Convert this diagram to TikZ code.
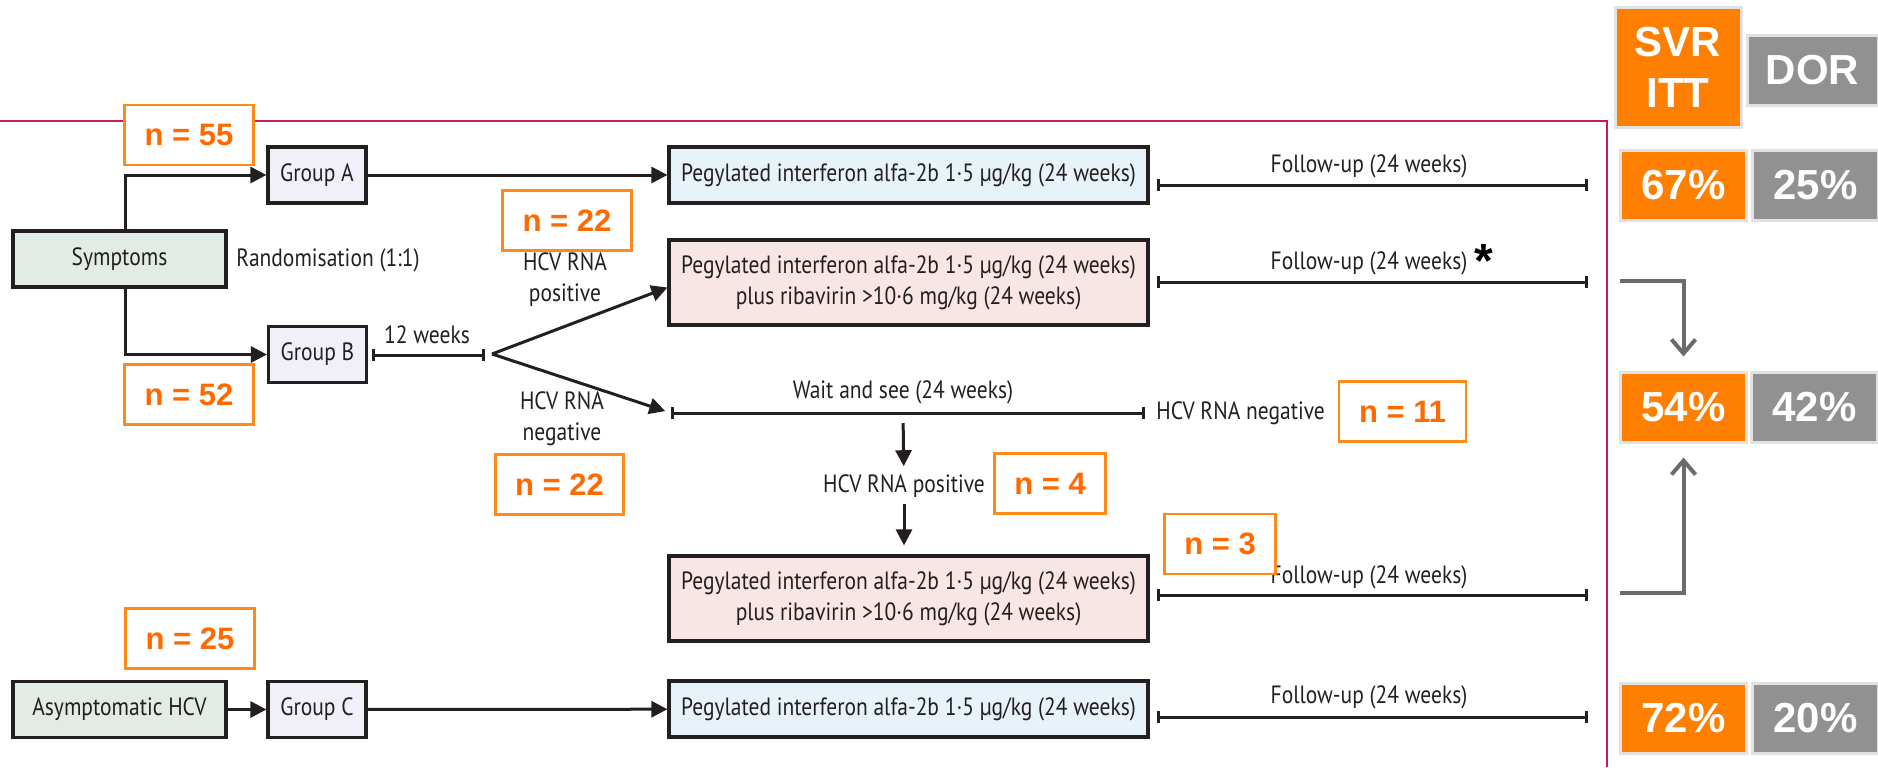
\documentclass[tikz,border=0pt]{standalone}
\usepackage{fontspec}
\setmainfont{PT Sans}[FakeStretch=0.86]
\newfontfamily\nfont{Liberation Sans}
\usepackage{tikz}
\usetikzlibrary{arrows.meta, positioning}
\definecolor{ink}{HTML}{231F20}
\definecolor{symfill}{HTML}{E3ECE4}
\definecolor{grpfill}{HTML}{F1EFF8}
\definecolor{pegblue}{HTML}{E7F3F9}
\definecolor{pegpink}{HTML}{F7E6E4}
\definecolor{norange}{HTML}{FF8A1C}
\definecolor{ntext}{HTML}{FF6A00}
\definecolor{svrorange}{HTML}{FF7F00}
\definecolor{dorgray}{HTML}{919191}
\definecolor{rimgray}{HTML}{E2E2E2}
\definecolor{arrgray}{HTML}{6B6B6B}
\definecolor{framered}{HTML}{C81E4A}

\begin{document}
\begin{tikzpicture}[
  x=0.5pt, y=-0.5pt,
  font=\fontsize{12.5}{15.5}\selectfont,
  box/.style={draw=ink, line width=1.6pt, inner sep=0pt, minimum height=28pt, align=center, text=ink},
  grp/.style={box, fill=grpfill, minimum width=49pt},
  peg/.style={box, minimum width=239.5pt},
  lbl/.style={inner sep=0pt, align=center, text=ink},
  nbox/.style={draw=norange, line width=1.4pt, fill=white, text=ntext, inner xsep=10pt, minimum height=30pt, font=\nfont\bfseries\fontsize{15.5}{18}\selectfont},
  res/.style={draw=rimgray, line width=1.5pt, text=white, align=center, minimum width=63pt, minimum height=35pt, font=\nfont\bfseries\fontsize{21}{25.5}\selectfont},
  arr/.style={-{Triangle[length=8pt,width=8pt]}, line width=1.5pt, draw=ink},
  spanbar/.style={{Bar[width=6pt]}-{Bar[width=6pt]}, line width=1.5pt, draw=ink},
  garr/.style={-{Straight Barb[length=7pt,width=12pt]}, line width=2pt, draw=arrgray},
  redframe/.style={draw=framered, line width=0.8pt}
]
\useasboundingbox (0,0) rectangle (1878,767);
\draw[redframe] (0,121) -| (1607,767);

\node[box, fill=symfill, minimum width=106.5pt] (symp) at (119.5,259) {Symptoms};
\node[box, fill=symfill, minimum width=106.5pt] (asym) at (119.5,709.5) {Asymptomatic HCV};
\node[grp] (grpA) at (317,175) {Group A};
\node[grp] (grpB) at (317.5,354.5) {Group B};
\node[grp] (grpC) at (317,709.5) {Group C};
\node[peg, fill=pegblue] (pegA) at (908.5,175) {Pegylated interferon alfa-2b 1·5 µg/kg (24 weeks)};
\node[peg, fill=pegpink, minimum height=42.5pt] (pegB) at (908.5,282.5) {Pegylated interferon alfa-2b 1·5 µg/kg (24 weeks)\\plus ribavirin >10·6 mg/kg (24 weeks)};
\node[peg, fill=pegpink, minimum height=42.5pt] (pegC) at (908.5,598.5) {Pegylated interferon alfa-2b 1·5 µg/kg (24 weeks)\\plus ribavirin >10·6 mg/kg (24 weeks)};
\node[peg, fill=pegblue] (pegD) at (908.5,709) {Pegylated interferon alfa-2b 1·5 µg/kg (24 weeks)};

\node[lbl, anchor=west] (rand) at (236,260) {Randomisation (1:1)};
\node[lbl] (wk12) at (427,335) {12 weeks};
\node[lbl] (posL) at (565,279.5) {HCV RNA\\positive};
\node[lbl] (negL) at (562,419) {HCV RNA\\negative};
\node[lbl] (wait) at (903,392) {Wait and see (24 weeks)};
\node[lbl, anchor=west] (negT) at (1156,413) {HCV RNA negative};
\node[lbl] (posT) at (904,486) {HCV RNA positive};
\foreach \n/\y in {A/166,B/263,C/577,D/697}
  \node[lbl] (fu\n) at (1369,\y) {Follow-up (24 weeks)};
\node[anchor=base, inner sep=0pt, font=\nfont\bfseries\fontsize{24}{24}\selectfont] (ast) at (1484,277) {*};

\coordinate (w0) at (372,355);
\coordinate (w1) at (485,355);
\coordinate (fork) at (492,354);
\coordinate (s0) at (671,413);
\coordinate (s1) at (1145,413);
\coordinate (drop) at (903,413);
\foreach \n/\y in {A/185,B/282,C/595,D/717} {
  \coordinate (f\n0) at (1157,\y);
  \coordinate (f\n1) at (1588,\y);
  \draw[spanbar] (f\n0) -- (f\n1);
}

\draw[arr] ([xshift=3pt]symp.north) |- (grpA);
\draw[arr] ([xshift=3pt]symp.south) |- (grpB);
\draw[arr] (grpA) -- (pegA);
\draw[arr] (asym) -- (grpC);
\draw[arr] (grpC) -- (pegD);
\draw[spanbar] (w0) -- (w1);
\draw[arr] (fork) -- ([yshift=-2.5pt]pegB.west);
\draw[arr, shorten >=3pt] (fork) -- (s0);
\draw[spanbar] (s0) -- (s1);
\draw[arr, shorten <=5pt, shorten >=4pt] (drop) -- (posT);
\draw[arr, shorten <=3pt, shorten >=4.5pt] (posT.south) -- (posT.south |- pegC.north);

\node[nbox] (n55) at (189,135) {n = 55};
\node[nbox] (n52) at (189,394.5) {n = 52};
\node[nbox] (n25) at (190,638.5) {n = 25};
\node[nbox] (n22a) at (567,220.5) {n = 22};
\node[nbox] (n22b) at (559.5,484.5) {n = 22};
\node[nbox] (n11) at (1402.5,411.5) {n = 11};
\node[nbox] (n4) at (1050,483.5) {n = 4};
\node[nbox] (n3) at (1220,544) {n = 3};

\node[res, fill=svrorange, minimum height=60pt] (svr) at (1678,67) {SVR\\ITT};
\node[res, fill=dorgray, minimum width=65.5pt] (dor) at (1812.5,70.5) {DOR};
\node[res, fill=svrorange] (p67) at (1683.5,185) {67\%};
\node[res, fill=dorgray] (p25) at (1815.5,185) {25\%};
\node[res, fill=svrorange] (p54) at (1683.5,407) {54\%};
\node[res, fill=dorgray] (p42) at (1814.5,407) {42\%};
\node[res, fill=svrorange] (p72) at (1683.5,718) {72\%};
\node[res, fill=dorgray] (p20) at (1815.5,718) {20\%};

\coordinate (gB) at (1620,281);
\coordinate (gC) at (1620,593);
\draw[garr, shorten >=7pt] (gB) -| (p54);
\draw[garr, shorten >=7pt] (gC) -| (p54);
\end{tikzpicture}
\end{document}
